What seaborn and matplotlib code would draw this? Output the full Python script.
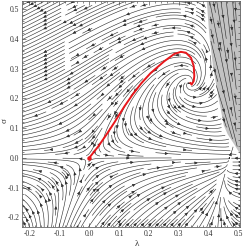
import numpy as np
import matplotlib
matplotlib.use('Agg')
import matplotlib.pyplot as plt
from matplotlib.ticker import MultipleLocator, FormatStrFormatter
import seaborn as sns

# plot range (read from the frame)
lam_range = (-0.225, 0.505)
sig_range = (-0.232, 0.525)

# flow directions: point (lam, sig), direction (d_lam, d_sig)
flow_lam = [-0.2, -0.2, -0.2, -0.2, -0.1, -0.1, -0.1, -0.1,
            0.0, 0.0, 0.0, 0.0, 0.1, 0.1, 0.2, 0.2, 0.28, 0.27, 0.34, 0.37,
            0.385, 0.39, 0.4, 0.3, 0.16, 0.22, 0.32, 0.42, 0.06,
            -0.15, -0.15, -0.06, -0.06,
            -0.2, -0.2, -0.12, -0.1, 0.0, 0.0, 0.1, 0.1, 0.2, 0.2, 0.3, 0.3,
            0.4, 0.4, 0.48, 0.1, 0.25, 0.4,
            0.375, 0.335, 0.295, 0.335]
flow_sig = [0.48, 0.35, 0.22, 0.12, 0.48, 0.35, 0.22, 0.12,
            0.48, 0.35, 0.22, 0.12, 0.48, 0.33, 0.48, 0.38, 0.49, 0.41, 0.49, 0.43,
            0.33, 0.22, 0.12, 0.15, 0.10, 0.05, 0.06, 0.04, 0.02,
            0.04, -0.04, 0.03, -0.03,
            -0.1, -0.2, -0.12, -0.2, -0.1, -0.2, -0.1, -0.2, -0.1, -0.2, -0.1, -0.2,
            -0.1, -0.2, -0.12, -0.03, -0.03, -0.03,
            0.25, 0.29, 0.25, 0.21]
flow_dl = [-1, -1, -1, -1, -1, -1, -1, -1,
           -1, -1, -1, -1, -1, -1, -1, -1, -1, -1, -1, -0.45,
           -0.15, 0.0, 1, 1, 0.5, 1, 1, 1, 1,
           -1, -1, -1, -1,
           -0.6, -0.25, -0.4, -0.15, 0.5, 0.5, 1, 1, 1, 1, 1, 1,
           0.4, 0.3, -0.15, 1, 1, 1,
           0.25, -1, -0.25, 1]
flow_ds = [-0.5, -0.47, -0.42, -0.3, -0.52, -0.5, -0.45, -0.35,
           -0.55, -0.55, -0.5, -0.45, -0.45, -0.65, -0.25, -0.5, -0.05, -0.25, 0.3, 1,
           1, 1, 0.5, -0.2, -1, -0.3, -0.15, -0.2, -0.1,
           -0.08, 0.1, -0.12, 0.15,
           1, 1, 1, 1, 1, 1, 0.6, 0.8, 0.45, 0.6, 0.5, 0.8,
           1, 1, 1, 0.15, 0.15, 0.3,
           1, 0.25, -1, -0.25]

# fixed points: saddle at origin, spiral source, node on the lam axis
saddle = (0.0, 0.0)
spiral = (0.335, 0.25)
node = (0.47, 0.0)

# shaded region, left boundary
gray_sig = [0.53, 0.42, 0.307, 0.195, 0.111, 0.081, 0.047, 0.013, 0.0]
gray_lam = [0.392, 0.400, 0.413, 0.433, 0.449, 0.462, 0.484, 0.505, 0.512]
gray_sink = (0.53, -0.10)

# red trajectory
red_lam = [0.0, 0.03, 0.057, 0.085, 0.118, 0.145, 0.175, 0.206, 0.251, 0.285,
           0.307, 0.324, 0.341, 0.350, 0.352, 0.350, 0.343, 0.339]
red_sig = [0.0, 0.038, 0.077, 0.12, 0.173, 0.212, 0.251, 0.285, 0.324, 0.349,
           0.356, 0.353, 0.336, 0.308, 0.275, 0.258, 0.246, 0.252]


def monos(l, s):
    return np.stack([np.ones_like(l), l, s, l*l, l*s, s*s], -1)


def rows_uv(l, s):
    # lam' = k*lam*(1 - lam/lam_node) + sig*h(lam, sig) ;  sig' = sig*q(lam, sig)
    m = monos(l, s)*s[..., None]
    z = np.zeros_like(m)
    ru = np.concatenate([(l*(1 - l/node[0]))[..., None], m, z], -1)
    rv = np.concatenate([np.zeros_like(l)[..., None], z, m], -1)
    return ru, rv


def fit_field():
    l = np.array(flow_lam, float)
    s = np.array(flow_sig, float)
    d = np.array([flow_dl, flow_ds], float).T
    d /= np.linalg.norm(d, axis=1)[:, None]
    fx = np.array([saddle, spiral, node])
    dist = np.min(np.hypot(l[:, None] - fx[:, 0], s[:, None] - fx[:, 1]), axis=1)
    target = np.minimum(1.0, dist/0.3)
    ru, rv = rows_uv(l, s)
    A = [ru*d[:, 1:] - rv*d[:, :1], 0.4*(ru*d[:, :1] + rv*d[:, 1:])]
    y = [np.zeros(len(l)), 0.4*target]
    su, sv = rows_uv(np.array([spiral[0]]), np.array([spiral[1]]))
    A += [30*su, 30*sv]
    y += [np.zeros(1), np.zeros(1)]
    n = ru.shape[1]
    A.append(0.01*np.eye(n))
    y.append(np.zeros(n))
    return np.linalg.lstsq(np.vstack(A), np.concatenate(y), rcond=None)[0]


sns.set_style('ticks')
plt.rcParams['font.family'] = ['Liberation Serif', 'DejaVu Serif']

fig = plt.figure(figsize=(2.49, 2.48), dpi=100)
ax = fig.add_axes([22/249, 1-227/248, 218/249, 225.5/248])

lam = np.linspace(lam_range[0], lam_range[1], 220)
sig = np.linspace(sig_range[0], sig_range[1], 220)
L, S = np.meshgrid(lam, sig)

coef = fit_field()
ru, rv = rows_uv(L, S)
U = ru @ coef
V = rv @ coef

edge = np.interp(S, gray_sig[::-1], gray_lam[::-1])
in_gray = (S >= min(gray_sig)) & (L >= edge)

Uw = np.ma.masked_where(in_gray, U)
Vw = np.ma.masked_where(in_gray, V)
Ug = np.ma.masked_where(~in_gray, gray_sink[0] - L)
Vg = np.ma.masked_where(~in_gray, gray_sink[1] - S)

ax.fill_betweenx(gray_sig, gray_lam, lam_range[1] + 0.01, color='#c2c2c2',
                 lw=0, zorder=0)

kw = dict(density=2.0, color='#2e2e2e', linewidth=0.42, arrowsize=0.42,
          arrowstyle='-|>', zorder=2, minlength=0.03)
try:
    ax.streamplot(lam, sig, Uw, Vw, num_arrows=4, **kw)
    ax.streamplot(lam, sig, Ug, Vg, num_arrows=4, **kw)
except TypeError:
    ax.streamplot(lam, sig, Uw, Vw, **kw)
    ax.streamplot(lam, sig, Ug, Vg, **kw)

ax.plot(red_lam, red_sig, color='#e8161b', lw=1.4, solid_capstyle='round',
        solid_joinstyle='round', zorder=4)
ax.plot(red_lam[0], red_sig[0], 'o', color='#e8161b', ms=2.2, zorder=5)

ax.set_xlim(*lam_range)
ax.set_ylim(*sig_range)
ax.xaxis.set_major_locator(MultipleLocator(0.1))
ax.yaxis.set_major_locator(MultipleLocator(0.1))
ax.xaxis.set_minor_locator(MultipleLocator(0.02))
ax.yaxis.set_minor_locator(MultipleLocator(0.02))
ax.xaxis.set_major_formatter(FormatStrFormatter('%.1f'))
ax.yaxis.set_major_formatter(FormatStrFormatter('%.1f'))
ax.tick_params(which='both', direction='in', top=True, right=True,
               width=0.5, colors='#555555', labelcolor='#333333', labelsize=5.5)
ax.tick_params(which='major', length=3, pad=2)
ax.tick_params(which='minor', length=1.5)
for sp in ax.spines.values():
    sp.set_linewidth(0.6)
    sp.set_color('#666666')

ax.set_xlabel('λ', fontsize=6.5, color='#333333')
ax.set_ylabel('σ', fontsize=6.5, color='#333333')
ax.xaxis.set_label_coords(0.527, -0.058)
ax.yaxis.set_label_coords(-0.062, 0.473)

fig.savefig('out.png', dpi=100)
